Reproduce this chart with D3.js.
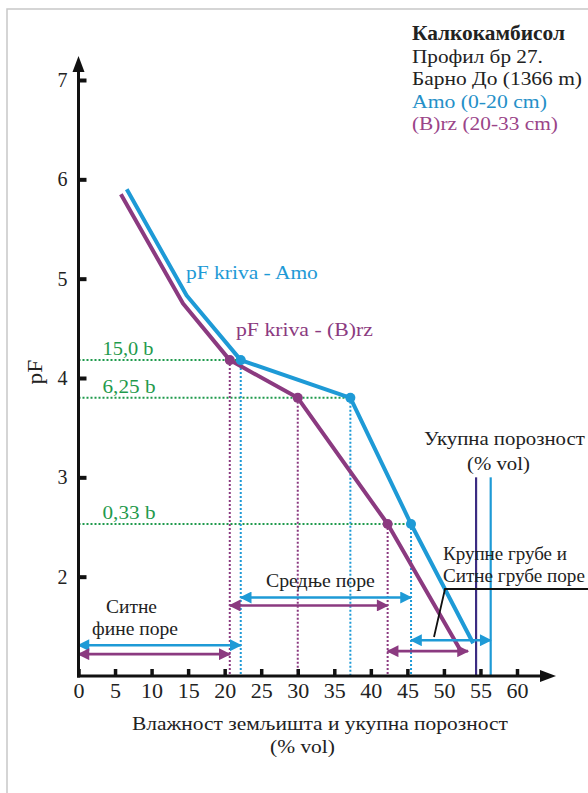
<!DOCTYPE html>
<html><head><meta charset="utf-8">
<script src="https://cdn.jsdelivr.net/npm/d3@7"></script>
<style>html,body{margin:0;padding:0;background:#fff;overflow:hidden}</style>
</head><body><svg id="c" width="588" height="793"></svg>
<script>
// ---- data ----
const amoX  = [6.6, 14.8, 22.2, 37.2, 45.5, 54.0];
const amoPF = [5.9, 4.83, 4.18, 3.8, 2.53, 1.33];
const brzX  = [5.8, 14.3, 20.7, 30.0, 42.3, 52.5];
const brzPF = [5.85, 4.75, 4.18, 3.8, 2.53, 1.23];
const dotIdx = [2, 3, 4];
const suctionLabels = ["15,0 b", "6,25 b", "0,33 b"];
const suctionPF = [4.18, 3.8, 2.53];
const porosityAmo = 56.4, porosityBrz = 54.4, porosityTopPF = 3.0;
const xTicks = [0,5,10,15,20,25,30,35,40,45,50,55,60];
const yTicks = [2,3,4,5,6,7];
const legendLines = ["Калкокамбисол","Профил бр 27.","Барно До (1366 m)","Amo (0-20 cm)","(B)rz (20-33 cm)"];
// pore class arrows: [from, to, pF level]
const amoArrows = [[0,22.2,1.31],[22.2,45.5,1.79],[45.5,56.4,1.36]];
const brzArrows = [[0,20.7,1.22],[20.7,42.3,1.71],[42.3,53.3,1.25]];

const BLUE="#1e9ad6", PURPLE="#8b3a80", GREEN="#1f9a4c", NAVY="#3b2c82";
const FONT="'Liberation Serif','Times New Roman',serif";

const svg=d3.select("#c");
const x=d3.scaleLinear().domain([0,60]).range([78.5,517]);
const y=d3.scaleLinear().domain([1,7]).range([676,80]);

// frame
svg.append("rect").attr("x",7).attr("y",9).attr("width",700).attr("height",900)
  .attr("fill","none").attr("stroke","#c8c8c8").attr("stroke-width",1.5);

const defs=svg.append("defs");
function marker(id,color){
  defs.append("marker").attr("id",id).attr("viewBox","0 0 10 10").attr("refX",9).attr("refY",5)
    .attr("markerWidth",5.2).attr("markerHeight",4.6).attr("markerUnits","strokeWidth").attr("orient","auto-start-reverse")
    .append("path").attr("d","M0,0L10,5L0,10Z").attr("fill",color);
}
marker("mb",BLUE); marker("mp",PURPLE);

// text helper: horizontally fitted to the width seen in the reference
function txt(s,px,py,w,opt={}){
  const t=svg.append("text")
    .attr("font-family",FONT).attr("font-size",opt.size||19).attr("fill",opt.fill||"#222")
    .attr("text-anchor",opt.anchor||"start").attr("font-weight",opt.weight||"normal").text(s);
  const len=t.node().getComputedTextLength()||w;
  const sx=w?w/len:1;
  t.attr("transform",`translate(${px},${py}) scale(${sx},1)`);
  return t;
}

// dotted suction lines
suctionPF.forEach((p,i)=>{
  svg.append("line").attr("x1",x(0)).attr("x2",x(amoX[dotIdx[i]])).attr("y1",y(p)).attr("y2",y(p))
    .attr("stroke",GREEN).attr("stroke-width",2).attr("stroke-dasharray","2,2");
  txt(suctionLabels[i],x(0)+24,y(p)-5,i===0?51:53,{fill:GREEN});
});
// vertical dotted lines
dotIdx.forEach(i=>{
  svg.append("line").attr("x1",x(brzX[i])).attr("x2",x(brzX[i])).attr("y1",y(brzPF[i])).attr("y2",y(1))
    .attr("stroke",PURPLE).attr("stroke-width",2).attr("stroke-dasharray","2,2");
  svg.append("line").attr("x1",x(amoX[i])).attr("x2",x(amoX[i])).attr("y1",y(amoPF[i])).attr("y2",y(1))
    .attr("stroke",BLUE).attr("stroke-width",2).attr("stroke-dasharray","2,2");
});

// total porosity lines
svg.append("line").attr("x1",x(porosityBrz)).attr("x2",x(porosityBrz)).attr("y1",y(porosityTopPF)).attr("y2",y(1))
  .attr("stroke",NAVY).attr("stroke-width",2.2);
svg.append("line").attr("x1",x(porosityAmo)).attr("x2",x(porosityAmo)).attr("y1",y(porosityTopPF)).attr("y2",y(1))
  .attr("stroke",BLUE).attr("stroke-width",2.2);

// curves
const line=d3.line().x(d=>x(d[0])).y(d=>y(d[1]));
svg.append("path").attr("d",line(brzX.map((v,i)=>[v,brzPF[i]]))).attr("fill","none")
  .attr("stroke",PURPLE).attr("stroke-width",4).attr("stroke-linejoin","round");
svg.append("path").attr("d",line(amoX.map((v,i)=>[v,amoPF[i]]))).attr("fill","none")
  .attr("stroke",BLUE).attr("stroke-width",4).attr("stroke-linejoin","round");
dotIdx.forEach(i=>{
  svg.append("circle").attr("cx",x(brzX[i])).attr("cy",y(brzPF[i])).attr("r",5).attr("fill",PURPLE);
  svg.append("circle").attr("cx",x(amoX[i])).attr("cy",y(amoPF[i])).attr("r",5).attr("fill",BLUE);
});

// arrows
function arrows(list,color,mid){
  list.forEach(a=>{
    svg.append("line").attr("x1",x(a[0])).attr("x2",x(a[1])).attr("y1",y(a[2])).attr("y2",y(a[2]))
      .attr("stroke",color).attr("stroke-width",2.6)
      .attr("marker-start",`url(#${mid})`).attr("marker-end",`url(#${mid})`);
  });
}
arrows(amoArrows,BLUE,"mb");
arrows(brzArrows,PURPLE,"mp");

// leader line
svg.append("path").attr("d","M588,589L445,589L434,637").attr("fill","none").attr("stroke","#111").attr("stroke-width",1.8);

// axes
const gx=svg.append("g").attr("transform",`translate(0,${y(1)})`);
gx.call(d3.axisBottom(x).tickValues(d3.range(0,61,1).filter(v=>v%5)).tickSize(-5).tickFormat(""));
gx.call(d3.axisBottom(x).tickValues(xTicks).tickSize(-7).tickPadding(8).tickFormat(d=>d));
gx.selectAll(".domain").remove();
gx.selectAll("line").attr("stroke","#111").attr("stroke-width",2);
gx.selectAll(".tick").filter(d=>d%5===0).select("line").attr("stroke-width",3.5);
gx.selectAll("text").attr("font-family",FONT).attr("font-size",20).attr("fill","#222");
// widen digits to the reference's proportions ("10" ≈ 22 px)
const probe=svg.append("text").attr("font-family",FONT).attr("font-size",20).text("10");
const dsx=22/(probe.node().getComputedTextLength()||20); probe.remove();
gx.selectAll("text").attr("transform",`scale(${dsx},1)`);

const gy=svg.append("g").attr("transform",`translate(${x(0)},0)`);
gy.call(d3.axisLeft(y).tickValues(d3.range(1.2,7.01,0.2).filter(v=>Math.abs(v-Math.round(v))>0.05)).tickSize(-7).tickFormat(""));
gy.call(d3.axisLeft(y).tickValues(yTicks).tickSize(-8).tickPadding(11).tickFormat(d=>d));
gy.selectAll(".domain").remove();
gy.selectAll("line").attr("stroke","#111").attr("stroke-width",2);
gy.selectAll(".tick").filter(d=>Math.abs(d-Math.round(d))<0.01).select("line").attr("stroke-width",4);
gy.selectAll("text").attr("font-family",FONT).attr("font-size",20).attr("fill","#222");

// axis lines with arrows
svg.append("line").attr("x1",x(0)).attr("x2",x(0)).attr("y1",y(1)+1.5).attr("y2",66).attr("stroke","#111").attr("stroke-width",3);
svg.append("path").attr("d",`M${x(0)},56L${x(0)-6},72L${x(0)+6},72Z`).attr("fill","#111");
svg.append("line").attr("x1",x(0)-1.5).attr("x2",545).attr("y1",y(1)).attr("y2",y(1)).attr("stroke","#111").attr("stroke-width",3);
svg.append("path").attr("d",`M556,${y(1)}L540,${y(1)-6}L540,${y(1)+6}Z`).attr("fill","#111");

// axis titles
svg.append("text").attr("transform",`translate(42,372) rotate(-90) scale(1.12,1)`).attr("text-anchor","middle")
  .attr("font-family",FONT).attr("font-size",21).attr("fill","#222").text("pF");
txt("Влажност земљишта и укупна порозност",132,730,376);
txt("(% vol)",270,753,65);

// legend
const lgY=[40,62.5,85,107.5,130];
const lgW=[153,131,170,135,146];
const lgC=["#222","#222","#222","#2590c8","#9a4488"];
legendLines.forEach((s,i)=>txt(s,412,lgY[i],lgW[i],{fill:lgC[i],weight:i===0?"bold":"normal",size:i===0?20:19}));

// curve labels
txt("pF kriva - Amo",186,279,132,{fill:BLUE});
txt("pF kriva - (B)rz",236,336,137,{fill:PURPLE});

// annotations
txt("Укупна порозност",424,445,161);
txt("(% vol)",467,470,63);
txt("Ситне",106,613,51);
txt("фине поре",92,635,86);
txt("Средње поре",266,587,109,{size:18});
txt("Крупне грубе и",443,560,124,{size:18});
txt("Ситне грубе поре",443,582,142,{size:18});
</script></body></html>
